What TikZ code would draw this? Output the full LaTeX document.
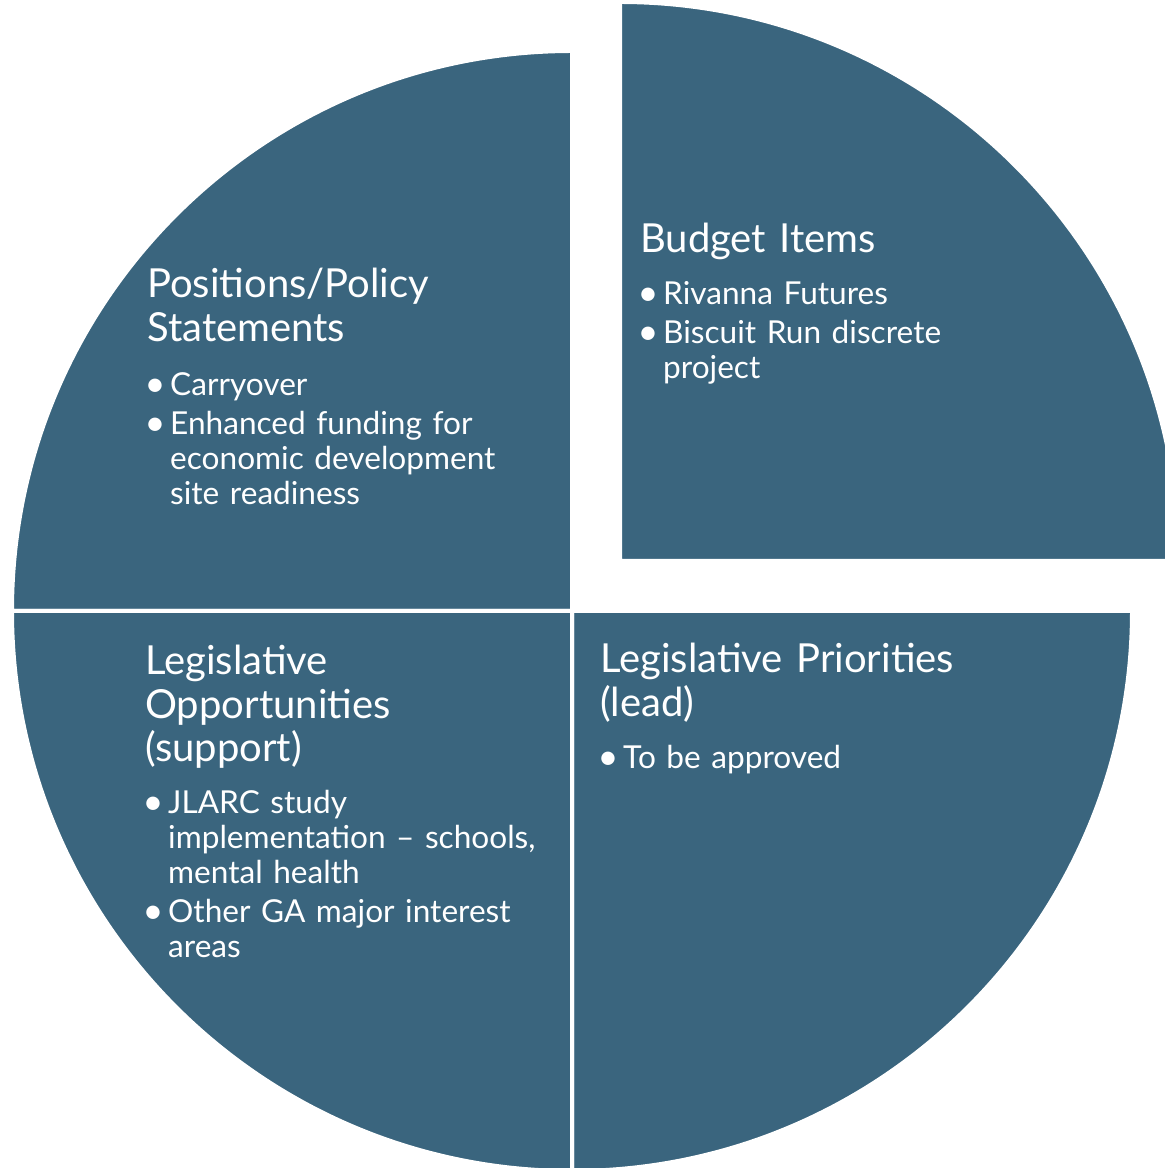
\documentclass[tikz,border=0pt]{standalone}
\usepackage{fontspec}
\setmainfont{Lato}
\definecolor{pieblue}{RGB}{58,101,126}
\newcommand{\bul}[1]{\setlength{\parskip}{4pt}\noindent\hangindent=23pt\hangafter=1\makebox[23pt][l]{\hspace{-2.5pt}\raisebox{-1pt}{\fontsize{36}{36}\selectfont\textbullet}}#1\par}

\begin{document}
\begin{tikzpicture}[x=1pt, y=1pt,
  slice/.style={fill=pieblue, draw=white, line width=4pt},
  head/.style={anchor=base west, inner sep=0pt, text=white, align=left, text width=430pt, font=\fontsize{40}{43.5}\selectfont},
  items/.style={anchor=base west, inner sep=0pt, text=white, align=left, text width=430pt, font=\fontsize{31.6}{35}\selectfont}]
  \useasboundingbox (0,0) rectangle (1165,1168);
  \clip (0,0) rectangle (1165,1168);
  \draw[slice] (572,557) -- (12,557) arc[start angle=180, end angle=90, radius=560pt] -- cycle;
  \draw[slice] (620,607) -- (1179,607) arc[start angle=0, end angle=90, radius=559pt] -- cycle;
  \draw[slice] (572,557) -- (572,-3) arc[start angle=-90, end angle=0, radius=560pt] -- cycle;
  \draw[slice] (572,557) -- (12,557) arc[start angle=180, end angle=270, radius=560pt] -- cycle;
  \node[head] (posTitle) at (147,870) {Positions/Policy\\Statements};
  \node[items] (posList) at (147,772) {\bul{Carryover}\bul{Enhanced funding for\newline economic development\newline site readiness}};
  \node[head] (budgetTitle) at (640,915) {Budget Items};
  \node[items] (budgetList) at (640,863) {\bul{Rivanna Futures}\bul{Biscuit Run discrete\newline project}};
  \node[head] (oppTitle) at (145,493) {Legislative\\Opportunities\\(support)};
  \node[items] (oppList) at (145,354) {\bul{JLARC study\newline implementation -- schools,\newline mental health}\bul{Other GA major interest\newline areas}};
  \node[head] (prioTitle) at (600,495) {Legislative Priorities\\(lead)};
  \node[items] (prioList) at (600,399) {\bul{To be approved}};
\end{tikzpicture}
\end{document}
